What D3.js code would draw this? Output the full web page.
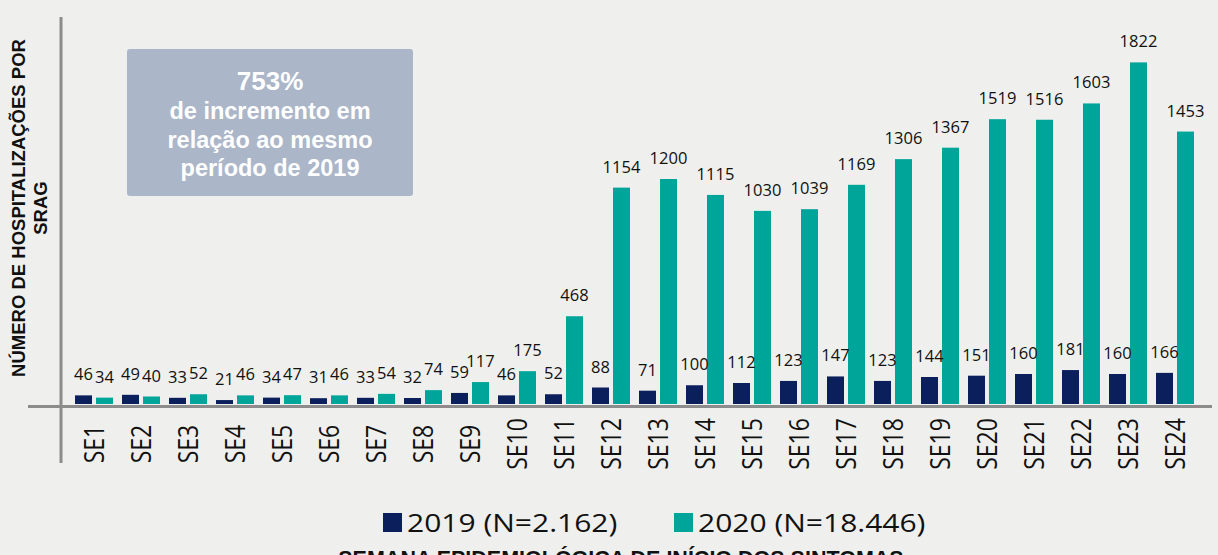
<!DOCTYPE html>
<html>
<head>
<meta charset="utf-8">
<script src="https://cdn.jsdelivr.net/npm/d3@7"></script>
<style>
  body { margin: 0; background: #efefed; }
  svg { display: block; }
</style>
</head>
<body>
<div id="chart"></div>
<script>
// data
var weeks = ["SE1","SE2","SE3","SE4","SE5","SE6","SE7","SE8","SE9","SE10","SE11","SE12",
             "SE13","SE14","SE15","SE16","SE17","SE18","SE19","SE20","SE21","SE22","SE23","SE24"];
var series = ["2019", "2020"];
var values2019 = [46,49,33,21,34,31,33,32,59,46,52,88,71,100,112,123,147,123,144,151,160,181,160,166];
var values2020 = [34,40,52,46,47,46,54,74,117,175,468,1154,1200,1115,1030,1039,1169,1306,1367,1519,1516,1603,1822,1453];
var legendLabels = ["2019 (N=2.162)", "2020 (N=18.446)"];
var boxLines = ["753%", "de incremento em", "relação ao mesmo", "período de 2019"];

var width = 1218,
    height = 555;
var colors = {"2019": "#0b1f5c", "2020": "#00a59a"};

var svg = d3.select("#chart").append("svg")
    .attr("width", width)
    .attr("height", height);

svg.append("rect")
    .attr("width", width)
    .attr("height", height)
    .attr("fill", "#efefed");

// scales
var x0 = d3.scaleBand()
    .domain(weeks)
    .range([70.5, 1198.5]);

var x1 = d3.scaleBand()
    .domain(series)
    .range([4.5, 42.5])
    .paddingInner(0.19);

var y = d3.scaleLinear()
    .domain([0, 2064])
    .range([404, 17]);

var rows = weeks.map(function(w, i) {
    return {week: w, vals: [
        {s: "2019", v: values2019[i]},
        {s: "2020", v: values2020[i]}
    ]};
});

// bars
var groups = svg.selectAll("g.week")
    .data(rows)
    .enter().append("g")
    .attr("class", "week")
    .attr("transform", function(d) { return "translate(" + x0(d.week) + ",0)"; });

groups.selectAll("rect")
    .data(function(d) { return d.vals; })
    .enter().append("rect")
    .attr("x", function(d) { return x1(d.s); })
    .attr("y", function(d) { return y(d.v); })
    .attr("width", x1.bandwidth())
    .attr("height", function(d) { return y(0) - y(d.v); })
    .attr("fill", function(d) { return colors[d.s]; });

// value labels
groups.selectAll("text")
    .data(function(d) { return d.vals; })
    .enter().append("text")
    .attr("x", function(d) { return x1(d.s) + x1.bandwidth() / 2; })
    .attr("y", function(d) { return y(d.v) - 15; })
    .attr("text-anchor", "middle")
    .style("font-family", "'Open Sans', sans-serif")
    .style("font-size", "16.5px")
    .style("fill", "#111")
    .text(function(d) { return d.v; });

// axis lines
svg.append("line")
    .attr("x1", 61).attr("x2", 61)
    .attr("y1", y.range()[1]).attr("y2", 463)
    .attr("stroke", "#8c8c8c")
    .attr("stroke-width", 3);

svg.append("line")
    .attr("x1", 28).attr("x2", 1212)
    .attr("y1", 406.5).attr("y2", 406.5)
    .attr("stroke", "#8c8c8c")
    .attr("stroke-width", 3);

// x tick labels
var xAxis = svg.append("g")
    .attr("transform", "translate(0,444)")
    .call(d3.axisBottom(x0).tickSize(0));
xAxis.select(".domain").remove();
xAxis.selectAll("text")
    .attr("x", 0)
    .attr("y", 0)
    .attr("dy", "0.36em")
    .attr("transform", "rotate(-90) scale(1,1.15)")
    .style("text-anchor", "middle")
    .style("font-family", "'Open Sans', sans-serif")
    .style("font-size", "23px")
    .style("fill", "#111");

// y title
var yTitle = ["NÚMERO DE HOSPITALIZAÇÕES POR", "SRAG"];
svg.selectAll("text.ytitle")
    .data(yTitle)
    .enter().append("text")
    .attr("class", "ytitle")
    .attr("transform", function(d, i) { return "translate(" + (25 + i * 22) + ",208) rotate(-90)"; })
    .attr("text-anchor", "middle")
    .style("font-family", "'Liberation Sans', Arial, sans-serif")
    .style("font-weight", "bold")
    .style("font-size", "18.5px")
    .style("fill", "#111")
    .text(function(d) { return d; });

// annotation box
svg.append("rect")
    .attr("x", 127)
    .attr("y", 49)
    .attr("width", 286)
    .attr("height", 147)
    .attr("rx", 3)
    .attr("fill", "#abb6c9");

svg.selectAll("text.box")
    .data(boxLines)
    .enter().append("text")
    .attr("class", "box")
    .attr("x", 270)
    .attr("y", function(d, i) { return i === 0 ? 90 : 119 + (i - 1) * 28.5; })
    .attr("text-anchor", "middle")
    .style("font-family", "'Liberation Sans', Arial, sans-serif")
    .style("font-weight", "bold")
    .style("font-size", function(d, i) { return i === 0 ? "26px" : "23.5px"; })
    .style("fill", "#ffffff")
    .text(function(d) { return d; });

// legend
var legendX = [383, 674];
var legend = svg.selectAll("g.legend")
    .data(series)
    .enter().append("g")
    .attr("class", "legend")
    .attr("transform", function(d, i) { return "translate(" + legendX[i] + ",513)"; });

legend.append("rect")
    .attr("width", 19)
    .attr("height", 19)
    .attr("fill", function(d) { return colors[d]; });

legend.append("text")
    .attr("transform", "translate(24,19) scale(1.2,1)")
    .style("font-family", "'Open Sans', sans-serif")
    .style("font-size", "25px")
    .style("fill", "#111")
    .text(function(d, i) { return legendLabels[i]; });

// x title, cut off at the bottom edge like in the source
svg.append("text")
    .attr("x", 621)
    .attr("y", 566)
    .attr("text-anchor", "middle")
    .style("font-family", "'Liberation Sans', Arial, sans-serif")
    .style("font-weight", "bold")
    .style("font-size", "21.5px")
    .style("fill", "#111")
    .text("SEMANA EPIDEMIOLÓGICA DE INÍCIO DOS SINTOMAS");
</script>
</body>
</html>
